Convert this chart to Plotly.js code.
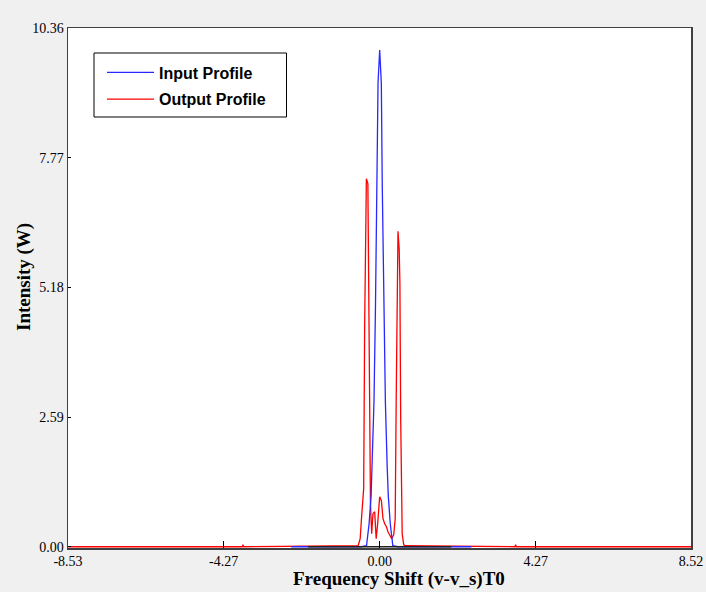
<!DOCTYPE html>
<html>
<head>
<meta charset="utf-8">
<script src="https://cdn.plot.ly/plotly-3.0.1.min.js"></script>
<style>html,body{margin:0;padding:0;background:#f0f0f0;}#chart{width:706px;height:592px;}</style>
</head>
<body>
<div id="chart"></div>
<script>
// Input profile (blue)
const freqIn = [-2.42, -0.50, -0.36, -0.29, -0.235, -0.205, -0.156, -0.115, -0.07, -0.045, 0, 0.045, 0.07, 0.115, 0.156, 0.205, 0.235, 0.29, 0.36, 0.50, 2.51];
const powIn  = [0, 0, 0.02, 0.46, 1.02, 1.61, 2.89, 4.80, 7.25, 9.26, 9.92, 9.26, 7.25, 4.80, 2.89, 1.61, 1.02, 0.46, 0.02, 0, 0];

// Output profile (red)
const freqOut = [-8.53, -3.76, -3.74, -3.72, -0.59, -0.534, -0.493, -0.438, -0.411, -0.389, -0.364, -0.323, -0.296, -0.274, -0.252, -0.219, -0.184, -0.137, -0.096, -0.055, 0, 0.047, 0.090, 0.137, 0.184, 0.227, 0.274, 0.329, 0.384, 0.425, 0.452, 0.474, 0.485, 0.501, 0.534, 0.553, 0.575, 0.595, 0.616, 0.658, 0.699, 3.70, 3.72, 3.74, 8.52];
const powOut  = [0, 0, 0.04, 0, 0.02, 0.16, 0.62, 1.16, 4.42, 6.57, 7.35, 7.25, 4.80, 1.75, 0.86, 0.26, 0.66, 0.70, 0.16, 0.46, 1.00, 0.92, 0.56, 0.46, 0.40, 0.30, 0.22, 0.16, 0.24, 0.56, 2.95, 4.94, 6.02, 6.30, 5.94, 5.28, 2.55, 0.96, 0.26, 0.04, 0.02, 0, 0.04, 0, 0];

// zero baseline segment (black)
const freqBase = [-1.96, 1.96];
const powBase  = [0, 0];

// tick labels
const xTickVals = [-8.53, -4.27, 0, 4.27, 8.52];
const xTickText = ['-8.53', '-4.27', '0.00', '4.27', '8.52'];
const yTickVals = [0, 2.59, 5.18, 7.77, 10.36];
const yTickText = ['0.00', '2.59', '5.18', '7.77', '10.36'];

const W = 706, H = 592, L = 68, R = 15, T = 28, B = 44;
const pw = W - L - R, ph = H - T - B;
const px = x => (x - L) / pw;
const py = y => (H - B - y) / ph;

const traces = [
  {x: freqOut, y: powOut, type: 'scatter', mode: 'lines', name: 'Output Profile', legendgroup: 'out', legendrank: 2,
   line: {color: 'rgb(255,0,0)', width: 1.3}},
  {x: freqIn, y: powIn, type: 'scatter', mode: 'lines', name: 'Input Profile', legendgroup: 'in', legendrank: 1,
   line: {color: 'rgb(40,40,255)', width: 1.3}},
  {x: freqBase, y: powBase, type: 'scatter', mode: 'lines', name: 'baseline', showlegend: false,
   line: {color: '#222', width: 1.3}, hoverinfo: 'skip'}
];

const serif = 'Liberation Serif, Times New Roman, serif';
const layout = {
  width: W, height: H,
  margin: {l: L, r: R, t: T, b: B, pad: 0},
  paper_bgcolor: '#f0f0f0',
  plot_bgcolor: '#ffffff',
  showlegend: true,
  legend: {
    x: px(102), y: py(55.5), xanchor: 'left', yanchor: 'top',
    bgcolor: 'rgba(0,0,0,0)', borderwidth: 0,
    traceorder: 'grouped', tracegroupgap: 3, itemwidth: 47,
    font: {family: 'Liberation Sans, Arial, sans-serif', size: 16, color: '#000', weight: 'bold'}
  },
  xaxis: {
    range: [-8.53, 8.52], tickmode: 'array', tickvals: xTickVals, ticktext: xTickText,
    ticks: 'inside', ticklen: 7, tickwidth: 1.5, tickcolor: '#000',
    showline: true, linecolor: '#404040', linewidth: 1.5, mirror: true,
    showgrid: false, zeroline: false,
    tickfont: {family: serif, size: 14, color: '#000'}
  },
  yaxis: {
    range: [-0.025, 10.36], tickmode: 'array', tickvals: yTickVals, ticktext: yTickText,
    ticks: 'inside', ticklen: 3, tickwidth: 1, tickcolor: '#000',
    showline: true, linecolor: '#404040', linewidth: 1.5, mirror: true,
    showgrid: false, zeroline: false,
    tickfont: {family: serif, size: 14, color: '#000'}
  },
  shapes: [
    {type: 'rect', xref: 'paper', yref: 'paper', x0: px(94), x1: px(286.5), y0: py(117), y1: py(53),
     line: {color: '#000', width: 1}, fillcolor: '#ffffff', layer: 'above'}
  ],
  annotations: [
    {text: 'Frequency Shift (v-v_s)T0', xref: 'paper', yref: 'paper', x: px(399), y: py(579),
     xanchor: 'center', yanchor: 'middle', showarrow: false,
     font: {family: serif, size: 19, color: '#000', weight: 'bold'}},
    {text: 'Intensity (W)', xref: 'paper', yref: 'paper', x: px(24), y: py(277), textangle: -90,
     xanchor: 'center', yanchor: 'middle', showarrow: false,
     font: {family: serif, size: 19, color: '#000', weight: 'bold'}}
  ]
};

Plotly.newPlot('chart', traces, layout, {staticPlot: true, displayModeBar: false});
</script>
</body>
</html>
